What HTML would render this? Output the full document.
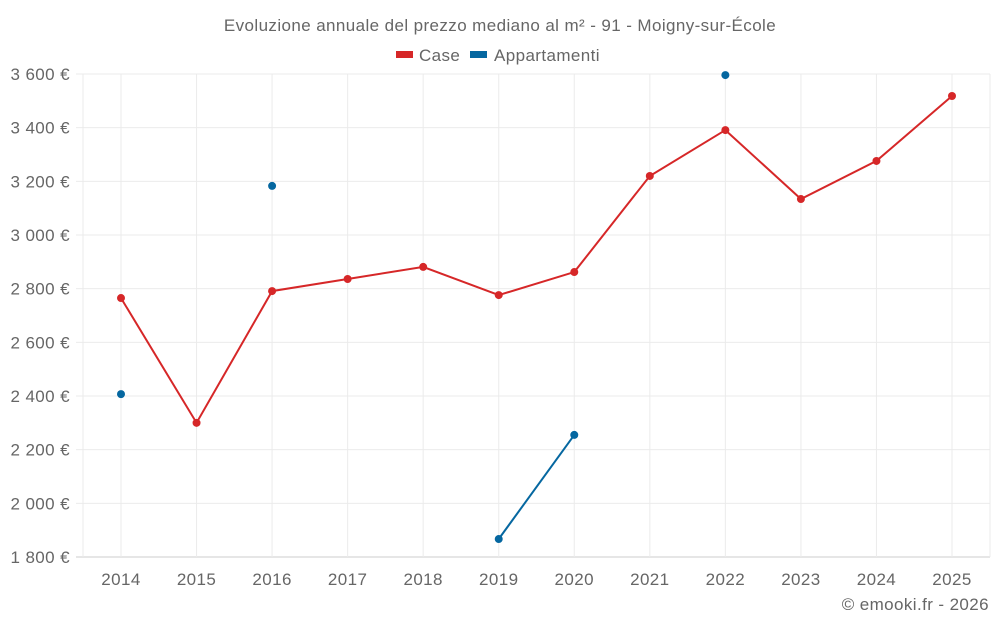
<!DOCTYPE html>
<html><head><meta charset="utf-8">
<style>
body{margin:0;background:#fff;font-family:"Liberation Sans",sans-serif;}
svg{display:block}
text{font-family:"Liberation Sans",sans-serif;fill:#666;letter-spacing:0.4px}
</style></head>
<body>
<svg id="chart" width="1000" height="625">
<text x="500" y="31" text-anchor="middle" font-size="17">Evoluzione annuale del prezzo mediano al m² - 91 - Moigny-sur-École</text>
<g>
<g><rect x="396" y="51" width="17" height="7" fill="#d62728"/><text x="419" y="61" font-size="17">Case</text></g>
<g><rect x="470" y="51" width="17" height="7" fill="#0567a0"/><text x="494" y="61" font-size="17">Appartamenti</text></g>
</g>
<g id="grid"></g>
<g id="series"></g>
<text x="989" y="610" text-anchor="end" font-size="17">© emooki.fr - 2026</text>
</svg>
<script>
const years=[2014,2015,2016,2017,2018,2019,2020,2021,2022,2023,2024,2025];
const caseValues=[2765,2300,2791,2836,2881,2776,2862,3220,3391,3134,3276,3518];
const apptValues=[2407,null,3183,null,null,1867,2255,null,3596,null,null,null];
const yTicks=[1800,2000,2200,2400,2600,2800,3000,3200,3400,3600];
const NS="http://www.w3.org/2000/svg";
const L=83,R=990,T=74,B=557,yMin=1800,yMax=3600;
const x0=121,x1=952;
function xs(i){return x0+(x1-x0)*i/(years.length-1);}
function ys(v){return B-(v-yMin)/(yMax-yMin)*(B-T);}
function mk(tag,attrs,parent){const e=document.createElementNS(NS,tag);for(const k in attrs)e.setAttribute(k,attrs[k]);parent.appendChild(e);return e;}
const grid=document.getElementById('grid'),ser=document.getElementById('series');
yTicks.forEach(v=>{
 const y=ys(v);
 const ln=mk('line',{x1:76,x2:R,y1:y,y2:y,stroke:v===yMin?'#ccc':'#ebebeb','stroke-width':1},grid);
 
 
 const t=mk('text',{x:70,y:y+6,'text-anchor':'end','font-size':17},grid);
 t.textContent=v.toLocaleString('fr-FR').replace(/\u202f|\u00a0/g,' ')+' €';
 
 
});
[L,R].forEach(x=>{const ln=mk('line',{x1:x,x2:x,y1:T,y2:B,stroke:'#ebebeb'},grid);
 
 });
years.forEach((yr,i)=>{
 const x=xs(i);
 const ln=mk('line',{x1:x,x2:x,y1:T,y2:B,stroke:'#ebebeb'},grid);
 
 
 const t=mk('text',{x:x,y:585,'text-anchor':'middle','font-size':17},grid);
 t.textContent=yr;
 
 
});
function draw(vals,color,name){
 let seg=[];
 const flush=()=>{if(seg.length>1){const p=mk('polyline',{points:seg.join(' '),fill:'none',stroke:color,'stroke-width':2},ser);
  
  }seg=[];};
 vals.forEach((v,i)=>{if(v==null){flush();return;}seg.push(xs(i)+','+ys(v));});
 flush();
 vals.forEach((v,i)=>{if(v==null)return;
  const c=mk('circle',{cx:xs(i),cy:ys(v),r:4,fill:color},ser);
  
  });
}
draw(caseValues,'#d62728','case');
draw(apptValues,'#0567a0','appartamenti');
</script>
</body></html>
